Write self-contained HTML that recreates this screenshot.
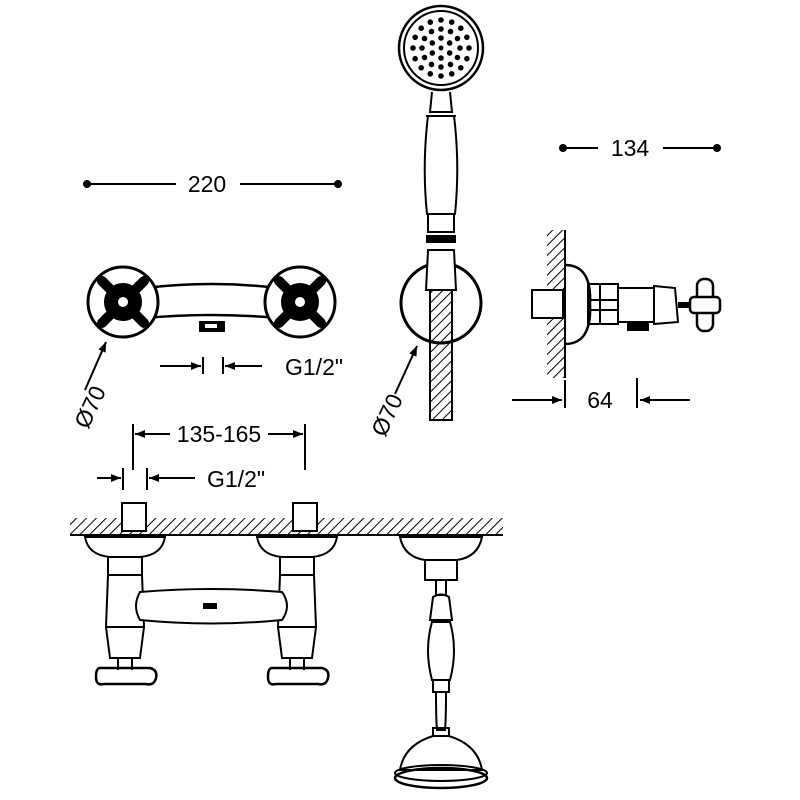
<!DOCTYPE html>
<html><head><meta charset="utf-8"><style>html,body{margin:0;background:#fff}svg{display:block}text{font-family:"Liberation Sans",sans-serif;font-size:23px;fill:#000}</style></head><body>
<svg width="800" height="800" viewBox="0 0 800 800" xmlns="http://www.w3.org/2000/svg">
<defs>
<pattern id="h" width="7" height="7" patternUnits="userSpaceOnUse" patternTransform="rotate(45)"><line x1="0" y1="0" x2="0" y2="7" stroke="#000" stroke-width="2"/></pattern>
<marker id="a" markerWidth="10" markerHeight="8" refX="10" refY="4" orient="auto" markerUnits="userSpaceOnUse"><path d="M0,0 L10,4 L0,8 Z" fill="#000"/></marker>
<circle id="d1" cx="441" cy="38" r="2.8" fill="#000"/>
<circle id="d2" cx="441" cy="29" r="2.8" fill="#000"/>
<circle id="d3" cx="441" cy="20" r="2.8" fill="#000"/>
</defs>
<g stroke="#000" stroke-width="2" fill="none">
<!-- 220 -->
<circle cx="87" cy="184" r="3" fill="#000"/><circle cx="338" cy="184" r="3" fill="#000"/>
<line x1="87" y1="184" x2="176" y2="184"/><line x1="240" y1="184" x2="338" y2="184"/>
<!-- 134 -->
<circle cx="563" cy="148" r="3" fill="#000"/><circle cx="717" cy="148" r="3" fill="#000"/>
<line x1="563" y1="148" x2="598" y2="148"/><line x1="663" y1="148" x2="717" y2="148"/>
<!-- front view -->
<path d="M145,288 Q212,280 278,288 L278,318 Q212,312 145,318 Z" stroke-width="2.5"/>
<path d="M200,322 h24 v9 h-24 z" fill="#000"/><rect x="205" y="324" width="12" height="4" fill="#fff" stroke="none"/>
<g stroke-width="3">
<circle cx="123" cy="302" r="35" fill="#fff"/><circle cx="300" cy="302" r="35" fill="#fff"/>
</g>
<g stroke="#000" stroke-width="10" stroke-linecap="round">
<line x1="102" y1="281" x2="144" y2="323"/><line x1="144" y1="281" x2="102" y2="323"/>
<line x1="279" y1="281" x2="321" y2="323"/><line x1="321" y1="281" x2="279" y2="323"/>
</g>
<circle cx="123" cy="302" r="18" fill="#000"/><circle cx="300" cy="302" r="18" fill="#000"/>
<circle cx="123" cy="302" r="5" fill="#fff" stroke="none"/><circle cx="300" cy="302" r="5" fill="#fff" stroke="none"/>
<!-- G1/2 top -->
<line x1="160" y1="366" x2="201" y2="366" marker-end="url(#a)"/><line x1="203" y1="357" x2="203" y2="374"/>
<line x1="223" y1="357" x2="223" y2="374"/><line x1="262" y1="366" x2="225" y2="366" marker-end="url(#a)"/>
<line x1="85" y1="390" x2="106" y2="342" marker-end="url(#a)"/>
<!-- hand shower -->
<circle cx="441" cy="48" r="42" stroke-width="2.5"/><circle cx="441" cy="48" r="37"/>
<circle cx="441" cy="48" r="1.5" fill="#000"/>
<g stroke="none">
<use href="#d1"/><use href="#d1" transform="rotate(60 441 48)"/><use href="#d1" transform="rotate(120 441 48)"/><use href="#d1" transform="rotate(180 441 48)"/><use href="#d1" transform="rotate(240 441 48)"/><use href="#d1" transform="rotate(300 441 48)"/>
<use href="#d2"/><use href="#d2" transform="rotate(30 441 48)"/><use href="#d2" transform="rotate(60 441 48)"/><use href="#d2" transform="rotate(90 441 48)"/><use href="#d2" transform="rotate(120 441 48)"/><use href="#d2" transform="rotate(150 441 48)"/><use href="#d2" transform="rotate(180 441 48)"/><use href="#d2" transform="rotate(210 441 48)"/><use href="#d2" transform="rotate(240 441 48)"/><use href="#d2" transform="rotate(270 441 48)"/><use href="#d2" transform="rotate(300 441 48)"/><use href="#d2" transform="rotate(330 441 48)"/>
<use href="#d3"/><use href="#d3" transform="rotate(22.5 441 48)"/><use href="#d3" transform="rotate(45 441 48)"/><use href="#d3" transform="rotate(67.5 441 48)"/><use href="#d3" transform="rotate(90 441 48)"/><use href="#d3" transform="rotate(112.5 441 48)"/><use href="#d3" transform="rotate(135 441 48)"/><use href="#d3" transform="rotate(157.5 441 48)"/><use href="#d3" transform="rotate(180 441 48)"/><use href="#d3" transform="rotate(202.5 441 48)"/><use href="#d3" transform="rotate(225 441 48)"/><use href="#d3" transform="rotate(247.5 441 48)"/><use href="#d3" transform="rotate(270 441 48)"/><use href="#d3" transform="rotate(292.5 441 48)"/><use href="#d3" transform="rotate(315 441 48)"/><use href="#d3" transform="rotate(337.5 441 48)"/>
</g>
<path d="M432,92 L430,112 L452,112 L450,92"/>
<path d="M428,116 Q422,165 427,214 L455,214 Q460,165 454,116 Z"/>
<line x1="426" y1="116" x2="456" y2="116"/>
<rect x="428" y="214" width="26" height="18"/><rect x="427" y="236" width="28" height="6" fill="#000"/>
<circle cx="441" cy="303" r="40" stroke-width="3"/>
<path d="M428,250 L426,290 L456,290 L454,250 Z" fill="#fff"/>
<rect x="430" y="290" width="22" height="130" fill="url(#h)"/>
<line x1="430" y1="290" x2="430" y2="420"/><line x1="452" y1="290" x2="452" y2="420"/>
<line x1="395" y1="394" x2="417" y2="346" marker-end="url(#a)"/>
<!-- side view -->
<rect x="547" y="230" width="18" height="148" fill="url(#h)" stroke="none"/>
<line x1="565" y1="230" x2="565" y2="378"/>
<rect x="532" y="290" width="31" height="28" fill="#fff"/>
<path d="M565,265 Q592,265 590,304 Q592,344 565,344" stroke-width="2.5"/>
<rect x="588" y="284" width="30" height="40"/><line x1="600" y1="284" x2="600" y2="324"/><line x1="588" y1="300" x2="618" y2="300"/><line x1="588" y1="310" x2="618" y2="310"/>
<rect x="618" y="288" width="36" height="34"/>
<path d="M654,286 L675,288 L678,322 L654,324 Z"/>
<rect x="628" y="322" width="20" height="8" fill="#000"/>
<line x1="678" y1="305" x2="696" y2="305" stroke-width="6"/>
<rect x="697" y="279" width="16" height="52" rx="7" stroke-width="2.5" fill="#fff"/>
<rect x="690" y="297" width="30" height="16" rx="4" stroke-width="2.5" fill="#fff"/>
<!-- 64 -->
<line x1="512" y1="400" x2="562" y2="400" marker-end="url(#a)"/><line x1="565" y1="380" x2="565" y2="408"/>
<line x1="637" y1="378" x2="637" y2="408"/><line x1="690" y1="400" x2="640" y2="400" marker-end="url(#a)"/>
<!-- 135-165 -->
<line x1="133" y1="424" x2="133" y2="470"/><line x1="305" y1="424" x2="305" y2="470"/>
<line x1="170" y1="434" x2="135" y2="434" marker-end="url(#a)"/><line x1="268" y1="434" x2="303" y2="434" marker-end="url(#a)"/>
<!-- G1/2 bottom -->
<line x1="97" y1="478" x2="121" y2="478" marker-end="url(#a)"/><line x1="123" y1="468" x2="123" y2="490"/>
<line x1="147" y1="468" x2="147" y2="490"/><line x1="195" y1="478" x2="149" y2="478" marker-end="url(#a)"/>
<!-- wall -->
<rect x="70" y="518" width="433" height="17" fill="url(#h)" stroke="none"/>
<line x1="70" y1="535" x2="503" y2="535"/>
<rect x="122" y="503" width="24" height="28" fill="#fff"/><rect x="293" y="503" width="24" height="28" fill="#fff"/>
<!-- valves -->
<g id="v">
<path d="M85,537 Q88,555 110,557 L140,557 Q162,555 165,537 Z" fill="#fff"/>
<rect x="108" y="557" width="34" height="18"/>
<path d="M108,575 L106,627 L144,627 L142,575"/>
<path d="M106,627 L110,658 L140,658 L144,627"/>
<line x1="118" y1="658" x2="118" y2="670"/><line x1="132" y1="658" x2="132" y2="670"/>
<path d="M100,668 h50 Q158,670 156,678 Q154,686 146,684 h-42 Q96,686 96,677 Q96,668 100,668 Z" stroke-width="2.5"/>
</g>
<use href="#v" transform="translate(172 0)"/>
<path d="M140,592 Q212,586 282,592 Q292,606 282,620 Q212,627 140,620 Q132,606 140,592 Z" fill="#fff"/>
<rect x="204" y="604" width="12" height="4" fill="#000"/>
<!-- hanging shower -->
<path d="M400,537 Q404,557 425,560 L457,560 Q478,557 482,537 Z"/>
<rect x="425" y="560" width="32" height="20"/>
<rect x="436" y="580" width="10" height="15"/>
<path d="M433,597 Q441,592 449,597 L452,620 L430,620 Z"/>
<path d="M432,622 Q424,650 432,680 L450,680 Q458,650 450,622 Z"/>
<rect x="433" y="680" width="16" height="12"/>
<path d="M436,692 Q436,720 437,730 L445,730 Q446,720 446,692"/>
<rect x="433" y="728" width="16" height="8"/>
<path d="M433,736 Q404,745 400,770 L482,770 Q478,745 449,736 Z"/>
<ellipse cx="441" cy="773" rx="46" ry="8"/><ellipse cx="441" cy="778" rx="46" ry="10" stroke-width="2.5"/>
</g>
<text x="207" y="192" text-anchor="middle">220</text>
<text x="630" y="156" text-anchor="middle">134</text>
<text x="285" y="375">G1/2"</text>
<text x="600" y="408" text-anchor="middle">64</text>
<text x="219" y="442" text-anchor="middle">135-165</text>
<text x="207" y="487">G1/2"</text>
<text transform="translate(88 430) rotate(-65)">Ø70</text>
<text transform="translate(385 438) rotate(-65)">Ø70</text>
</svg>
</body></html>
